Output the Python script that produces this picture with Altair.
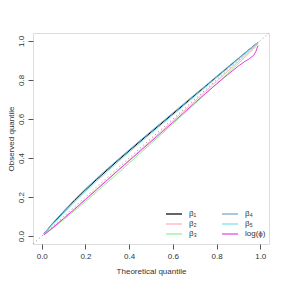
import altair as alt
import pandas as pd

# Theoretical quantile grid (x) and observed quantiles for each parameter
x_vals = [0.01, 0.05, 0.10, 0.15, 0.20, 0.25, 0.30, 0.35, 0.40, 0.45, 0.50, 0.55,
          0.60, 0.65, 0.70, 0.75, 0.80, 0.85, 0.90, 0.93, 0.95, 0.97, 0.98, 0.99]

beta1 = [0.012, 0.064, 0.124, 0.182, 0.237, 0.289, 0.339, 0.389, 0.437, 0.485, 0.532, 0.579,
         0.626, 0.673, 0.721, 0.768, 0.815, 0.862, 0.909, 0.937, 0.956, 0.974, 0.983, 0.990]
beta2 = [0.009, 0.045, 0.092, 0.140, 0.190, 0.240, 0.290, 0.340, 0.390, 0.440, 0.490, 0.540,
         0.590, 0.641, 0.691, 0.742, 0.792, 0.843, 0.894, 0.925, 0.946, 0.966, 0.977, 0.988]
beta3 = [0.008, 0.040, 0.084, 0.130, 0.177, 0.226, 0.275, 0.324, 0.374, 0.424, 0.474, 0.524,
         0.575, 0.626, 0.677, 0.729, 0.780, 0.832, 0.884, 0.916, 0.938, 0.960, 0.972, 0.986]
beta4 = [0.013, 0.067, 0.128, 0.187, 0.242, 0.294, 0.345, 0.394, 0.442, 0.490, 0.537, 0.584,
         0.631, 0.678, 0.725, 0.771, 0.818, 0.865, 0.911, 0.939, 0.957, 0.975, 0.984, 0.991]
beta5 = [0.011, 0.060, 0.118, 0.175, 0.229, 0.281, 0.331, 0.381, 0.430, 0.478, 0.526, 0.573,
         0.620, 0.668, 0.716, 0.763, 0.811, 0.858, 0.906, 0.934, 0.953, 0.972, 0.981, 0.990]
logphi = [0.007, 0.042, 0.090, 0.138, 0.187, 0.237, 0.287, 0.337, 0.386, 0.435, 0.484, 0.533,
          0.582, 0.632, 0.682, 0.731, 0.779, 0.826, 0.871, 0.895, 0.908, 0.926, 0.945, 0.976]

series_names = ["β₁", "β₂", "β₃", "β₄", "β₅", "log(ϕ)"]
series_values = [beta1, beta2, beta3, beta4, beta5, logphi]
series_colors = ["#000000", "#FFB0C0", "#90EE90", "#6CA6CD", "#70E0E8", "#E040E0"]

diag = [-0.04, 1.04]
ticks = [0.0, 0.2, 0.4, 0.6, 0.8, 1.0]

rows = []
for name, vals in zip(series_names, series_values):
    for i, (xv, yv) in enumerate(zip(x_vals, vals)):
        rows.append({"series": name, "x": xv, "y": yv, "i": i})
df = pd.DataFrame(rows)
diag_df = pd.DataFrame({"x": diag, "y": diag})

FONT = "Liberation Sans"
TXT = "#333333"
FRAME = "#555555"

xscale = alt.Scale(domain=[-0.04, 1.04], nice=False, zero=False)
yscale = alt.Scale(domain=[-0.04, 1.04], nice=False, zero=False)

xaxis = alt.Axis(values=ticks, format=".1f", title="Theoretical quantile", grid=False,
                 domain=False, tickColor=FRAME, tickSize=5, labelFontSize=8, labelColor=TXT,
                 labelFont=FONT, titleFont=FONT, titleFontSize=8, titleFontWeight="normal",
                 titleColor=TXT, labelPadding=3, titlePadding=7)
yaxis = alt.Axis(values=ticks, format=".1f", title="Observed quantile", grid=False,
                 domain=False, tickColor=FRAME, tickSize=5, labelFontSize=8, labelColor=TXT,
                 labelFont=FONT, titleFont=FONT, titleFontSize=8, titleFontWeight="normal",
                 titleColor=TXT, labelAngle=270, labelAlign="center", labelBaseline="bottom",
                 labelPadding=3, titlePadding=2)

diag_line = alt.Chart(diag_df).mark_line(color="#888888", strokeDash=[1, 3], strokeWidth=1,
                                         clip=True).encode(
    x=alt.X("x:Q", scale=xscale, axis=xaxis),
    y=alt.Y("y:Q", scale=yscale, axis=yaxis),
)

lines = alt.Chart(df).mark_line(strokeWidth=1, clip=True).encode(
    x=alt.X("x:Q", scale=xscale),
    y=alt.Y("y:Q", scale=yscale),
    order="i:Q",
    color=alt.Color("series:N",
                    scale=alt.Scale(domain=series_names, range=series_colors),
                    legend=alt.Legend(title=None, orient="none", legendX=135, legendY=175,
                                      columns=2, symbolType="M-1.6,0H1.6", symbolSize=100,
                                      symbolStrokeWidth=1.2, labelFontSize=8, labelFont=FONT,
                                      labelColor=TXT, rowPadding=0, columnPadding=22,
                                      labelOffset=9, padding=0)),
)

chart = (diag_line + lines).properties(
    width=236, height=211,
    autosize=alt.AutoSizeParams(type="none"),
    padding={"left": 25, "top": 25, "right": 8, "bottom": 34},
).configure_view(stroke=FRAME, strokeWidth=1).configure(background="white")

chart.save("out.html", embed_options={"renderer": "svg", "actions": False})
